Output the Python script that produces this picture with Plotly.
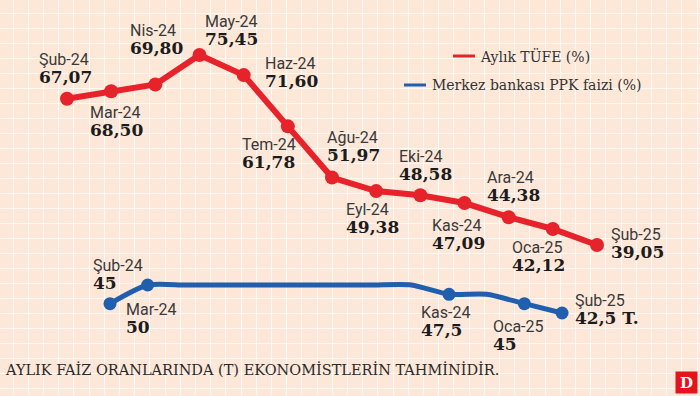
import plotly.graph_objects as go

# ---------------- data ----------------
months = ["Şub-24", "Mar-24", "Nis-24", "May-24", "Haz-24", "Tem-24", "Ağu-24",
          "Eyl-24", "Eki-24", "Kas-24", "Ara-24", "Oca-25", "Şub-25"]
tufe = [67.07, 68.50, 69.80, 75.45, 71.60, 61.78, 51.97, 49.38, 48.58, 47.09, 44.38, 42.12, 39.05]
ppk = [45, 50, 50, 50, 50, 50, 50, 50, 50, 47.5, 47.5, 45, 42.5]
ppk_labelled = [True, True, False, False, False, False, False, False, False, True, False, True, True]
ppk_forecast = [False] * 12 + [True]

tufe_name = "Aylık TÜFE (%)"
ppk_name = "Merkez bankası PPK faizi (%)"
footnote = "AYLIK FAİZ ORANLARINDA (T) EKONOMİSTLERİN TAHMİNİDİR."
logo = "D"

# ---------------- layout / style ----------------
W, H = 700, 396
RED = "#e6232a"
BLUE = "#1f5fae"
BG = "#fde7d8"
BASE_FONT = dict(family="Roboto, Noto Sans, sans-serif", size=14, color="#3a3a3a")

# label offsets from their point, in pixels (dx to label's left edge, dy to label's centre)
red_label_off = [(-29, -30.5), (-22, 30.5), (-26, -45), (4, -24.5), (20, -3),
                 (-47, 27.5), (-6, -31.5), (-31, 27.5), (-22, -30),
                 (-34, 31.5), (-23, -30.5), (-42, 27.5), (13, -1.5)]
blue_label_off = [(-18, -29.5), (-23, 33.5), (-29, 27.5), (-32, 31.5), (12, -3.5)]


def px_x(p):
    return p / W


def px_y(p):
    return 1 - p / H


def fmt_tr(v, decimals=None):
    s = f"{v:.{decimals}f}" if decimals is not None else f"{v:g}"
    return s.replace(".", ",")


def label_text(month, value_txt):
    return (f"<span style='font-size:16px'>{month}</span><br>"
            f"<b><span style='font-family:DejaVu Serif, serif;font-size:17px;color:#1c1c1c'>"
            f"{value_txt}</span></b>")


idx = list(range(len(months)))

fig = go.Figure()

# blue line (smooth) and its marked points
fig.add_trace(go.Scatter(
    x=idx, y=ppk, mode="lines", name=ppk_name, showlegend=False, hoverinfo="skip",
    line=dict(color=BLUE, width=5, shape="spline", smoothing=0.7),
    xaxis="x2", yaxis="y2"))
bx = [i for i, f in zip(idx, ppk_labelled) if f]
by = [v for v, f in zip(ppk, ppk_labelled) if f]
bf = [fc for fc, f in zip(ppk_forecast, ppk_labelled) if f]
bm = [m for m, f in zip(months, ppk_labelled) if f]
fig.add_trace(go.Scatter(
    x=bx, y=by, mode="markers", showlegend=False,
    marker=dict(color=BLUE, size=13), xaxis="x2", yaxis="y2"))

# red line
fig.add_trace(go.Scatter(
    x=idx, y=tufe, mode="lines+markers", name=tufe_name, showlegend=False,
    line=dict(color=RED, width=6), marker=dict(color=RED, size=14),
    xaxis="x", yaxis="y"))

annotations = []
for i, m, v, (dx, dy) in zip(idx, months, tufe, red_label_off):
    annotations.append(dict(x=i, y=v, xref="x", yref="y", xshift=dx, yshift=-dy,
                            text=label_text(m, fmt_tr(v, 2)), showarrow=False,
                            xanchor="left", yanchor="middle", align="left",
                            font=BASE_FONT, borderpad=0))

for i, m, v, fc, (dx, dy) in zip(bx, bm, by, bf, blue_label_off):
    txt = fmt_tr(v) + (" T." if fc else "")
    annotations.append(dict(x=i, y=v, xref="x2", yref="y2", xshift=dx, yshift=-dy,
                            text=label_text(m, txt), showarrow=False,
                            xanchor="left", yanchor="middle", align="left",
                            font=BASE_FONT, borderpad=0))

# legend (centered rows)
LEG_FONT = dict(family="DejaVu Serif, serif", size=14, color="#333333")
annotations.append(dict(x=px_x(479), y=px_y(56), xref="paper", yref="paper", text=tufe_name,
                        showarrow=False, xanchor="left", yanchor="middle", font=LEG_FONT, borderpad=0))
annotations.append(dict(x=px_x(431), y=px_y(85), xref="paper", yref="paper", text=ppk_name,
                        showarrow=False, xanchor="left", yanchor="middle", font=LEG_FONT, borderpad=0))

# footnote
annotations.append(dict(x=px_x(4), y=px_y(369), xref="paper", yref="paper", text=footnote,
                        showarrow=False, xanchor="left", yanchor="middle",
                        font=dict(family="DejaVu Serif, serif", size=14.5, color="#2a2a2a"),
                        borderpad=0))
# logo
annotations.append(dict(x=px_x(698), y=px_y(394), xref="paper", yref="paper",
                        text=f"<b>{logo}</b>", showarrow=False, xanchor="right", yanchor="bottom",
                        font=dict(family="DejaVu Serif, serif", size=15, color="white"),
                        bgcolor="#e3141b", borderpad=1, width=19, height=19))

shapes = [
    dict(type="line", xref="paper", yref="paper", x0=px_x(453), x1=px_x(475),
         y0=px_y(56), y1=px_y(56), line=dict(color=RED, width=3)),
    dict(type="line", xref="paper", yref="paper", x0=px_x(404), x1=px_x(426),
         y0=px_y(85), y1=px_y(85), line=dict(color=BLUE, width=3)),
    # fade of the grid near the top
    dict(type="rect", xref="x3", yref="y3", x0=0, x1=W, y0=0, y1=85, layer="below",
         fillcolor=BG, opacity=0.85, line=dict(width=0)),
    dict(type="rect", xref="x3", yref="y3", x0=0, x1=W, y0=85, y1=110, layer="below",
         fillcolor=BG, opacity=0.45, line=dict(width=0)),
]

hidden = dict(visible=False, fixedrange=True)
fig.update_layout(
    width=W, height=H, margin=dict(l=0, r=0, t=0, b=0),
    paper_bgcolor=BG, plot_bgcolor=BG, showlegend=False,
    xaxis=dict(range=[-1.517, 14.332], **hidden),
    yaxis=dict(range=[10.12, 85.99], **hidden),
    xaxis2=dict(range=[-2.920, 15.662], overlaying="x", **hidden),
    yaxis2=dict(range=[20.27, 126.34], overlaying="y", **hidden),
    xaxis3=dict(range=[0, W], overlaying="x", showgrid=True, gridcolor="rgba(255,255,255,0.75)",
                gridwidth=1, tick0=13, dtick=15.2, showticklabels=False, zeroline=False,
                showline=False, ticks="", fixedrange=True),
    yaxis3=dict(range=[H, 0], overlaying="y", showgrid=True, gridcolor="rgba(255,255,255,0.75)",
                gridwidth=1, tick0=13, dtick=15, showticklabels=False, zeroline=False,
                showline=False, ticks="", fixedrange=True),
    annotations=annotations, shapes=shapes,
)

fig.write_html("out.html", config={"displayModeBar": False},
               post_script="document.body.style.margin='0';document.body.style.overflow='hidden';")
